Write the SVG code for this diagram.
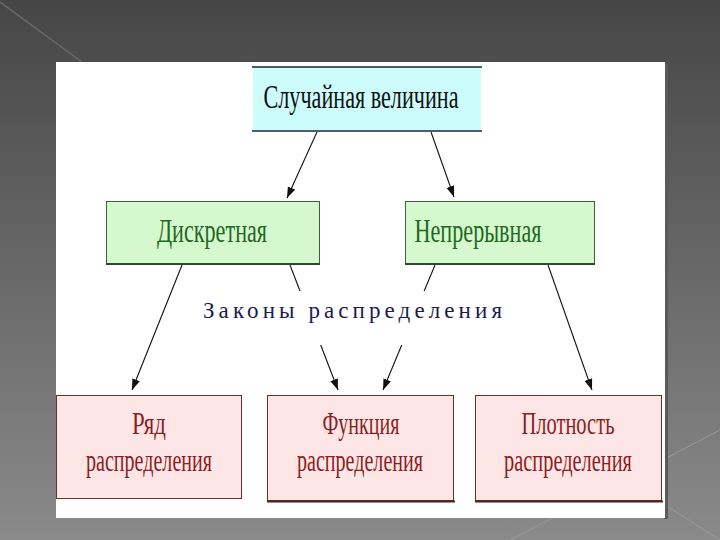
<svg xmlns="http://www.w3.org/2000/svg" width="720" height="540" viewBox="0 0 720 540">
<defs>
<linearGradient id="bg" x1="0" y1="0" x2="0" y2="1">
<stop offset="0" stop-color="#464646"/>
<stop offset="1" stop-color="#8a8a8a"/>
</linearGradient>
<marker id="ah" markerWidth="11" markerHeight="8" refX="11" refY="4" orient="auto" markerUnits="userSpaceOnUse">
<path d="M0,0 L11,4 L0,8 z" fill="#111"/>
</marker>
<style>
.t{font-family:"Liberation Serif","Times New Roman",serif;text-anchor:middle}
.g rect{fill:#d6f8cf;stroke:#3d5f3d;stroke-width:1}
.g text{fill:#1e6a1e;font-size:34px}
.p rect{fill:#ffe6e6;stroke:#6e2e2e;stroke-width:1}
.p text{fill:#8a1e24;font-size:31px}
.c line{stroke:#111;stroke-width:1.1;marker-end:url(#ah)}
</style>
</defs>
<rect width="720" height="540" fill="url(#bg)"/>
<line x1="0" y1="2" x2="82" y2="62" stroke="#6a6a6a" stroke-width="1.5"/>
<line x1="665" y1="505" x2="720" y2="540" stroke="#9a9a9a" stroke-width="1"/>
<line x1="510" y1="540" x2="720" y2="430" stroke="#9a9a9a" stroke-width="1"/>
<rect x="664" y="64" width="4" height="455" fill="#5a5a5a"/>
<rect x="56" y="62" width="609" height="456" fill="#ffffff"/>

<g id="n-random">
<rect x="253" y="67" width="228" height="64" fill="#ccfcfc"/>
<line x1="252" y1="67" x2="482" y2="67" stroke="#1a2a3a" stroke-width="1.5"/>
<line x1="252" y1="131" x2="482" y2="131" stroke="#1a2a3a" stroke-width="1.5"/>
<text class="t" x="361" y="108" font-size="33" fill="#111" textLength="195" lengthAdjust="spacingAndGlyphs">Случайная величина</text>
</g>

<g id="n-discrete" class="g">
<rect x="106.5" y="201.5" width="213" height="62"/>
<line x1="106" y1="264" x2="320" y2="264" stroke="#2e4a2e" stroke-width="2"/>
<text class="t" x="212" y="242" textLength="110" lengthAdjust="spacingAndGlyphs">Дискретная</text>
</g>

<g id="n-continuous" class="g">
<rect x="405.5" y="201.5" width="189" height="62"/>
<line x1="405" y1="264" x2="595" y2="264" stroke="#2e4a2e" stroke-width="2"/>
<text class="t" x="478" y="242" textLength="127" lengthAdjust="spacingAndGlyphs">Непрерывная</text>
</g>

<g id="connectors" class="c">
<line x1="317" y1="132" x2="287" y2="198"/>
<line x1="431" y1="132" x2="454" y2="197"/>
<line x1="182" y1="265" x2="132" y2="390"/>
<line x1="290" y1="265" x2="338" y2="390"/>
<line x1="435" y1="265" x2="383" y2="390"/>
<line x1="548" y1="265" x2="592" y2="390"/>
</g>

<g id="laws">
<rect x="200" y="291" width="306" height="54" fill="#ffffff"/>
<text x="203" y="318" font-family="'Liberation Serif','Times New Roman',serif" font-size="23" fill="#1c1c4e" textLength="299" lengthAdjust="spacing">Законы распределения</text>
</g>

<g id="n-series" class="p">
<rect x="56.5" y="395.5" width="185" height="103"/>
<text class="t" x="149" y="434" textLength="34" lengthAdjust="spacingAndGlyphs">Ряд</text>
<text class="t" x="149" y="471" textLength="126" lengthAdjust="spacingAndGlyphs">распределения</text>
</g>

<g id="n-function" class="p">
<rect x="267.5" y="395.5" width="186" height="105"/>
<line x1="267" y1="501.5" x2="455" y2="501.5" stroke="#4a2020" stroke-width="2"/>
<text class="t" x="361" y="434" textLength="77" lengthAdjust="spacingAndGlyphs">Функция</text>
<text class="t" x="360" y="471" textLength="126" lengthAdjust="spacingAndGlyphs">распределения</text>
</g>

<g id="n-density" class="p">
<rect x="475.5" y="395.5" width="186" height="105"/>
<line x1="475" y1="501.5" x2="663" y2="501.5" stroke="#4a2020" stroke-width="2"/>
<text class="t" x="568" y="434" textLength="93" lengthAdjust="spacingAndGlyphs">Плотность</text>
<text class="t" x="568" y="471" textLength="128" lengthAdjust="spacingAndGlyphs">распределения</text>
</g>
</svg>
